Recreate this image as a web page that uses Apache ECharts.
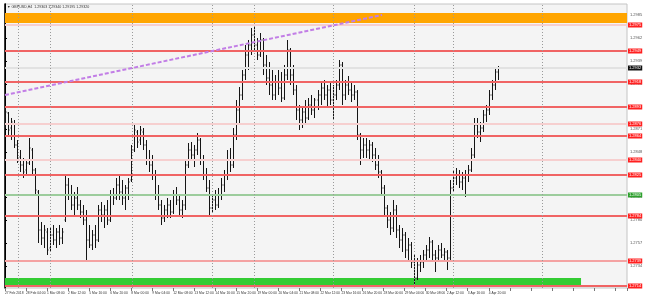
<!DOCTYPE html>
<html>
<head>
<meta charset="utf-8">
<script src="https://cdn.jsdelivr.net/npm/echarts@6/dist/echarts.min.js"></script>
<style>
html,body{margin:0;padding:0;background:#fff;}
#c{width:647px;height:303px;}
</style>
</head>
<body>
<div id="c"></div>
<script>
// ---- data (H4 bars) ----
var opens = [
1.2880,1.2887,1.2872,1.2876,1.2855,1.2843,1.2835,1.2830,1.2837,1.2850,
1.2830,1.2808,1.2770,1.2762,1.2768,1.2752,1.2765,1.2760,1.2768,1.2762,
1.2780,1.2815,1.2805,1.2795,1.2802,1.2795,1.2788,1.2780,1.2760,1.2755,
1.2765,1.2760,1.2790,1.2785,1.2790,1.2780,1.2805,1.2802,1.2815,1.2808,
1.2802,1.2812,1.2820,1.2850,1.2868,1.2860,1.2868,1.2855,1.2840,1.2835,
1.2825,1.2805,1.2795,1.2782,1.2790,1.2795,1.2788,1.2805,1.2800,1.2790,
1.2795,1.2835,1.2850,1.2845,1.2850,1.2860,1.2840,1.2825,1.2812,1.2792,
1.2800,1.2795,1.2805,1.2815,1.2825,1.2840,1.2835,1.2865,1.2890,1.2905,
1.2925,1.2945,1.2955,1.2965,1.2955,1.2945,1.2960,1.2935,1.2922,1.2915,
1.2905,1.2918,1.2912,1.2902,1.2925,1.2950,1.2925,1.2910,1.2890,1.2880,
1.2888,1.2882,1.2895,1.2890,1.2900,1.2905,1.2912,1.2905,1.2910,1.2900,
1.2905,1.2915,1.2935,1.2905,1.2915,1.2910,1.2905,1.2908,1.2865,1.2850,
1.2855,1.2850,1.2855,1.2845,1.2835,1.2828,1.2812,1.2792,1.2780,1.2772,
1.2790,1.2770,1.2760,1.2765,1.2750,1.2755,1.2738,1.2722,1.2735,1.2738,
1.2745,1.2750,1.2758,1.2745,1.2742,1.2750,1.2745,1.2748,1.2742,1.2812,
1.2822,1.2825,1.2818,1.2822,1.2825,1.2830,1.2845,1.2875,1.2868,1.2872,
1.2885,1.2890,1.2905,1.2915,1.2928];
var highs = [
1.2893,1.2888,1.2882,1.2880,1.2860,1.2850,1.2842,1.2840,1.2862,1.2852,
1.2832,1.2810,1.2778,1.2775,1.2772,1.2772,1.2775,1.2772,1.2775,1.2772,
1.2825,1.2822,1.2815,1.2808,1.2813,1.2800,1.2795,1.2790,1.2775,1.2770,
1.2775,1.2795,1.2798,1.2795,1.2800,1.2810,1.2812,1.2822,1.2825,1.2820,
1.2815,1.2822,1.2855,1.2875,1.2870,1.2874,1.2872,1.2860,1.2850,1.2845,
1.2830,1.2815,1.2800,1.2795,1.2802,1.2800,1.2810,1.2813,1.2805,1.2800,
1.2840,1.2857,1.2858,1.2855,1.2867,1.2862,1.2845,1.2832,1.2820,1.2805,
1.2810,1.2812,1.2822,1.2830,1.2850,1.2852,1.2872,1.2900,1.2913,1.2930,
1.2955,1.2960,1.2972,1.2973,1.2962,1.2967,1.2962,1.2945,1.2938,1.2930,
1.2925,1.2930,1.2928,1.2935,1.2960,1.2952,1.2935,1.2915,1.2895,1.2892,
1.2900,1.2902,1.2905,1.2902,1.2910,1.2918,1.2920,1.2915,1.2918,1.2915,
1.2920,1.2940,1.2938,1.2920,1.2924,1.2918,1.2915,1.2910,1.2867,1.2862,
1.2862,1.2860,1.2858,1.2852,1.2845,1.2830,1.2815,1.2795,1.2788,1.2800,
1.2795,1.2775,1.2772,1.2768,1.2762,1.2758,1.2745,1.2742,1.2745,1.2750,
1.2755,1.2763,1.2760,1.2750,1.2755,1.2757,1.2752,1.2750,1.2820,1.2830,
1.2832,1.2830,1.2828,1.2830,1.2835,1.2852,1.2882,1.2882,1.2878,1.2890,
1.2895,1.2910,1.2920,1.2932,1.2934];
var lows = [
1.2872,1.2865,1.2860,1.2852,1.2837,1.2828,1.2822,1.2825,1.2835,1.2825,
1.2805,1.2757,1.2755,1.2752,1.2745,1.2748,1.2755,1.2752,1.2755,1.2756,
1.2778,1.2800,1.2790,1.2785,1.2790,1.2782,1.2775,1.2738,1.2752,1.2750,
1.2752,1.2758,1.2778,1.2772,1.2775,1.2778,1.2795,1.2800,1.2800,1.2795,
1.2790,1.2800,1.2818,1.2848,1.2852,1.2855,1.2850,1.2835,1.2828,1.2820,
1.2800,1.2790,1.2775,1.2778,1.2782,1.2782,1.2786,1.2795,1.2785,1.2782,
1.2790,1.2832,1.2840,1.2833,1.2845,1.2835,1.2820,1.2808,1.2785,1.2787,
1.2790,1.2792,1.2800,1.2808,1.2820,1.2828,1.2832,1.2860,1.2875,1.2900,
1.2920,1.2930,1.2945,1.2950,1.2940,1.2943,1.2925,1.2915,1.2905,1.2900,
1.2900,1.2905,1.2898,1.2900,1.2920,1.2915,1.2905,1.2880,1.2870,1.2872,
1.2875,1.2880,1.2885,1.2882,1.2890,1.2895,1.2900,1.2892,1.2895,1.2880,
1.2900,1.2910,1.2895,1.2900,1.2905,1.2898,1.2900,1.2860,1.2835,1.2842,
1.2842,1.2840,1.2838,1.2830,1.2822,1.2805,1.2785,1.2772,1.2765,1.2768,
1.2762,1.2752,1.2748,1.2742,1.2740,1.2732,1.2716,1.2720,1.2728,1.2732,
1.2738,1.2742,1.2738,1.2728,1.2738,1.2742,1.2738,1.2730,1.2738,1.2808,
1.2815,1.2812,1.2810,1.2803,1.2818,1.2828,1.2842,1.2862,1.2858,1.2868,
1.2878,1.2885,1.2900,1.2910,1.2920];
var closes = [
1.2888,1.2870,1.2878,1.2855,1.2842,1.2835,1.2828,1.2837,1.2852,1.2830,
1.2810,1.2770,1.2762,1.2770,1.2750,1.2765,1.2760,1.2768,1.2762,1.2768,
1.2815,1.2805,1.2795,1.2802,1.2795,1.2788,1.2780,1.2760,1.2755,1.2765,
1.2760,1.2790,1.2785,1.2790,1.2780,1.2805,1.2802,1.2815,1.2808,1.2802,
1.2812,1.2818,1.2850,1.2870,1.2858,1.2870,1.2855,1.2840,1.2835,1.2825,
1.2805,1.2795,1.2782,1.2790,1.2795,1.2788,1.2805,1.2800,1.2790,1.2795,
1.2835,1.2850,1.2845,1.2850,1.2860,1.2840,1.2825,1.2812,1.2792,1.2800,
1.2795,1.2805,1.2815,1.2825,1.2840,1.2835,1.2865,1.2890,1.2905,1.2925,
1.2945,1.2955,1.2965,1.2955,1.2945,1.2960,1.2935,1.2922,1.2915,1.2905,
1.2918,1.2912,1.2902,1.2925,1.2950,1.2925,1.2910,1.2890,1.2880,1.2888,
1.2882,1.2895,1.2890,1.2900,1.2905,1.2912,1.2905,1.2910,1.2900,1.2905,
1.2915,1.2935,1.2905,1.2915,1.2910,1.2905,1.2908,1.2865,1.2850,1.2855,
1.2850,1.2855,1.2845,1.2835,1.2828,1.2812,1.2792,1.2780,1.2772,1.2790,
1.2770,1.2760,1.2765,1.2750,1.2755,1.2738,1.2722,1.2735,1.2738,1.2745,
1.2750,1.2758,1.2745,1.2742,1.2750,1.2745,1.2748,1.2742,1.2812,1.2822,
1.2825,1.2818,1.2822,1.2825,1.2830,1.2845,1.2875,1.2868,1.2872,1.2885,
1.2890,1.2905,1.2915,1.2928,1.2932];

// horizontal levels
var redLevels   = [1.2949, 1.2918, 1.2893, 1.2864, 1.2825, 1.2784, 1.2714];
var softRedLevels = [1.2739];
var pinkLevels  = [1.2975, 1.2876, 1.2840];
var greenLevel  = 1.2805;
var bidLevel    = 1.2932;
var orangeBand  = [1.2987, 1.2977];
var greenBand   = [1.2722, 1.2715];
var greenBandEnd = 191.7;               // bar index where the green zone stops
var trendStart  = [0, 1.2905];          // [bar index, price]
var trendEnd    = [125.5, 1.2985];
var separators  = [4.3, 15, 42.3, 68.9, 82.9, 109.2, 136.1, 149.1, 178.7];

// axis labels
var xLabels = ["27 Feb 2018","28 Feb 04:00","1 Mar 08:00","2 Mar 12:00","5 Mar 16:00","6 Mar 20:00",
  "8 Mar 00:00","9 Mar 04:00","12 Mar 08:00","13 Mar 12:00","14 Mar 16:00","15 Mar 20:00",
  "19 Mar 00:00","20 Mar 04:00","21 Mar 08:00","22 Mar 12:00","23 Mar 16:00","26 Mar 20:00",
  "28 Mar 00:00","29 Mar 04:00","30 Mar 08:00","2 Apr 12:00","3 Apr 16:00","4 Apr 20:00"];
var yTickValues = [1.2985,1.2962,1.2939,1.2916,1.2893,1.2871,1.2848,1.2825,1.2803,1.2780,1.2757,1.2734];
var titleText = "\u25BC GBPUSD,H4  1.29303 1.29340 1.29195 1.29320";

// ---- chart ----
var bars = opens.map(function(o, i){ return [i, o, highs[i], lows[i], closes[i]]; });

function lvl(v, lineColor, width, bg, txt){
  return {yAxis: v, lineStyle:{color: lineColor, width: width, type:'solid'},
    label:{show:true, position:'end', distance:1, formatter: v.toFixed(4),
      backgroundColor: bg, color: txt, fontSize:4, padding:[1,1,0,1], fontFamily:'Liberation Sans'}};
}
var levelData = [];
pinkLevels.forEach(function(v){ levelData.push(lvl(v,'#f6cfcf',2,'#ff2020','#fff')); });
levelData.push(lvl(bidLevel,'#e2e2e2',2,'#111','#fff'));
softRedLevels.forEach(function(v){ levelData.push(lvl(v,'#f4a2a2',2,'#ff2020','#fff')); });
redLevels.forEach(function(v){ levelData.push(lvl(v,'#f06464',2,'#ff2020','#fff')); });
levelData.push(lvl(greenLevel,'#9ccc9c',2,'#2ca02c','#fff'));
separators.forEach(function(v){
  levelData.push({xAxis: v, lineStyle:{color:'#9a9a9a', width:1, type:[1,2]}, label:{show:false}});
});
levelData.push([
  {coord: trendStart, lineStyle:{color:'#c27ee6', width:2, type:[4,2]}, label:{show:false}},
  {coord: trendEnd}
]);

var chart = echarts.init(document.getElementById('c'), null, {renderer:'canvas'});
chart.setOption({
  animation:false,
  backgroundColor:'#ffffff',
  grid:{left:5, right:20, top:4, bottom:15, show:true, backgroundColor:'#f4f4f4', borderColor:'#c4c4c4', borderWidth:1},
  xAxis:{type:'value', min:0, max:207, interval:7,
    axisLine:{show:false},
    axisTick:{show:true, length:3, lineStyle:{color:'#777'}},
    splitLine:{show:false},
    axisLabel:{fontSize:3.3, color:'#333', align:'left', margin:4, fontFamily:'Liberation Sans',
      formatter:function(v){ var k = Math.round(v/7); return xLabels[k] || ''; }}
  },
  yAxis:[{type:'value', position:'right', min:1.2712, max:1.2996,
    axisLine:{show:true, lineStyle:{color:'#000', width:1.5}},
    axisTick:{show:true, length:2, customValues: yTickValues, lineStyle:{color:'#000'}},
    splitLine:{show:false},
    axisLabel:{fontSize:4, color:'#555', margin:3, fontFamily:'Liberation Sans', customValues: yTickValues,
      formatter:function(v){ return v.toFixed(4); }}
  },{type:'value', position:'left', min:1.2712, max:1.2996,
    axisLine:{show:true, lineStyle:{color:'#000', width:1}}, axisTick:{show:false}, axisLabel:{show:false}, splitLine:{show:false}}],
  series:[{
    type:'custom', yAxisIndex:0,
    data: bars,
    encode:{x:0, y:[1,2,3,4]},
    clip:true,
    z:3,
    renderItem:function(params, api){
      var x = api.value(0);
      var o = api.coord([x, api.value(1)]);
      var h = api.coord([x, api.value(2)]);
      var l = api.coord([x, api.value(3)]);
      var c = api.coord([x, api.value(4)]);
      var px = Math.round(h[0]) + 0.5;
      var st = {stroke:'#151515', lineWidth:1};
      return {type:'group', children:[
        {type:'line', shape:{x1:px, y1:h[1], x2:px, y2:l[1]}, style:st},
        {type:'line', shape:{x1:px-1, y1:o[1], x2:px, y2:o[1]}, style:st},
        {type:'line', shape:{x1:px, y1:c[1], x2:px+1, y2:c[1]}, style:st}
      ]};
    },
    markArea:{silent:true, data:[
      [{yAxis:orangeBand[0], itemStyle:{color:'#ffa500'}}, {yAxis:orangeBand[1]}],
      [{xAxis:'min', yAxis:greenBand[0], itemStyle:{color:'#33cc33'}}, {xAxis:greenBandEnd, yAxis:greenBand[1]}]
    ]},
    markLine:{silent:true, symbol:'none', precision:4, animation:false, data: levelData}
  }],
  graphic:[{type:'text', left:7, top:5, z:100,
    style:{text:titleText, fontSize:3.6, fill:'#333', fontFamily:'Liberation Sans'}}]
});
</script>
</body>
</html>
